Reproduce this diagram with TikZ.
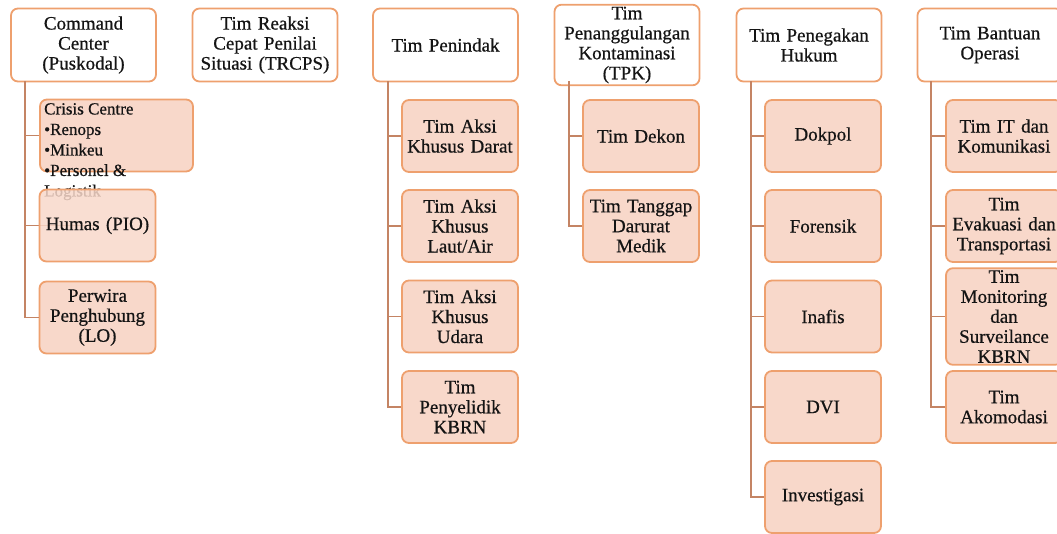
\documentclass[tikz,border=0pt]{standalone}
\usepackage{fontspec}
\setmainfont{Liberation Serif}[FakeBold=0.6]
\definecolor{bord}{RGB}{238,160,110}
\definecolor{kidc}{RGB}{248,216,202}
\definecolor{connc}{RGB}{196,132,100}
\definecolor{txt}{RGB}{20,20,20}
\begin{document}
\begin{tikzpicture}[x=1pt,y=-1pt,
  base/.style={draw=bord, line width=1.8pt, rounded corners=7pt, inner sep=2pt, align=center, text=txt, font=\fontsize{19}{20}\selectfont},
  head/.style={base, fill=white, minimum width=145pt, minimum height=73pt, text width=138pt},
  kid/.style={base, fill=kidc, minimum width=116pt, minimum height=72pt, text width=112pt},
  conn/.style={draw=connc, line width=1.8pt}]
\useasboundingbox (0,0) rectangle (1057,533);
\clip (0,0) rectangle (1057,533);
% headers
\node[head] (cc)  at (83.5,45) {Command\\Center\\(Puskodal)};
\node[head] (tr)  at (265,45)  {Tim Reaksi\\Cepat Penilai\\Situasi (TRCPS)};
\node[head] (tp)  at (445.5,45) {Tim Penindak};
\node[head] (tpk) at (627,45)  {Tim\\Penanggulangan\\Kontaminasi\\(TPK)};
\node[head] (th)  at (809,45)  {Tim Penegakan\\Hukum};
\node[head] (tb)  at (990,45)  {Tim Bantuan\\Operasi};
% trunk coordinates
\coordinate (ccx) at (25,81);
\coordinate (tpx) at (388,81);
\coordinate (tkx) at (569,81);
\coordinate (thx) at (751,81);
\coordinate (tbx) at (931,81);
% Command Center children
\node[kid, minimum width=153pt, text width=148pt] (cc1) at (116.5,135.5) {};
\coordinate (cc2c) at (97.5,225.5);
\node[kid] (cc3) at (97.5,317.5) {Perwira\\Penghubung\\(LO)};
\draw[conn] (ccx) |- (cc1.west);
\draw[conn] (ccx) |- (cc3.west);
\draw[conn] (ccx) |- (cc2c);
% crisis centre text
\node[anchor=north west, inner sep=0pt, align=left, text=txt, font=\fontsize{17}{20.5}\selectfont] (cct) at (44,103)
  {Crisis Centre\\•Renops\\•Minkeu\\•Personel \&\\Logistik};
\node[kid, fill opacity=0.85, text opacity=1] (cc2) at (cc2c) {Humas (PIO)};
% Tim Penindak
\node[kid] (tp1) at (460,136) {Tim Aksi\\Khusus Darat};
\node[kid] (tp2) at (460,226) {Tim Aksi\\Khusus\\Laut/Air};
\node[kid] (tp3) at (460,316.5) {Tim Aksi\\Khusus\\Udara};
\node[kid] (tp4) at (460,407) {Tim\\Penyelidik\\KBRN};
\foreach \n in {tp1,tp2,tp3,tp4} \draw[conn] (tpx) |- (\n.west);
% TPK
\node[kid] (tk1) at (641,136) {Tim Dekon};
\node[kid] (tk2) at (641,226) {Tim Tanggap\\Darurat\\Medik};
\foreach \n in {tk1,tk2} \draw[conn] (tkx) |- (\n.west);
% Penegakan Hukum
\node[kid] (th1) at (823,136) {Dokpol};
\node[kid] (th2) at (823,226) {Forensik};
\node[kid] (th3) at (823,316.5) {Inafis};
\node[kid] (th4) at (823,407) {DVI};
\node[kid] (th5) at (823,497) {Investigasi};
\foreach \n in {th1,th2,th3,th4,th5} \draw[conn] (thx) |- (\n.west);
% Bantuan Operasi
\node[kid] (tb1) at (1004,136) {Tim IT dan\\Komunikasi};
\node[kid] (tb2) at (1004,226) {Tim\\Evakuasi dan\\Transportasi};
\node[kid] (tb3) at (1004,316.5) {Tim\\Monitoring\\dan\\Surveilance\\KBRN};
\node[kid] (tb4) at (1004,407) {Tim\\Akomodasi};
\foreach \n in {tb1,tb2,tb3,tb4} \draw[conn] (tbx) |- (\n.west);
\end{tikzpicture}
\end{document}
